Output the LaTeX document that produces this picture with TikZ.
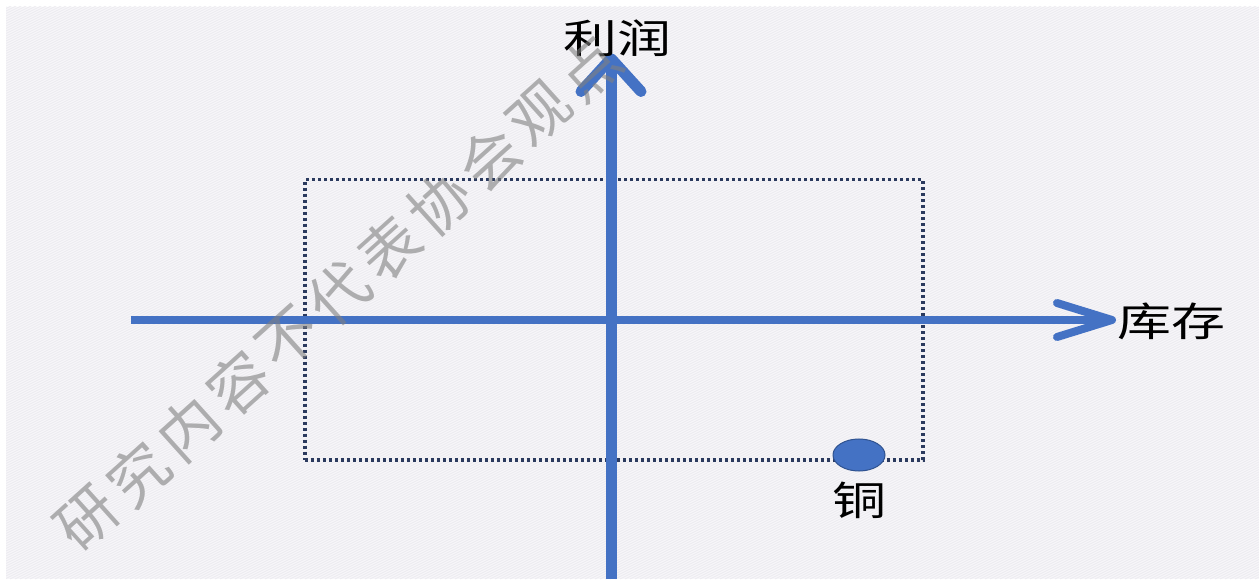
\documentclass[tikz,border=0pt]{standalone}
\usepackage{fontspec}
\newfontfamily\cjk{Noto Sans CJK SC}
\usetikzlibrary{arrows.meta,shapes.geometric}
\definecolor{axisblue}{HTML}{4472C4}
\definecolor{dotnavy}{HTML}{2B3A5E}
\definecolor{bgc}{HTML}{F7F6F9}
\definecolor{hatchc}{HTML}{ECEBF0}
\definecolor{dotborder}{HTML}{2F528F}
\tikzset{
  axisline/.style={draw=axisblue, line cap=butt},
  label/.style={font=\cjk\fontsize{40}{40}\selectfont, text=black, inner sep=0pt},
  region/.style={draw=dotnavy, line width=3.5pt, dash pattern=on 3pt off 3pt},
  metal/.style={ellipse, fill=axisblue, draw=dotborder, line width=1pt, minimum width=52pt, minimum height=32pt, inner sep=0pt},
  hatch/.style={draw=hatchc, line width=0.8pt},
  watermark/.style={font=\cjk\fontsize{60}{60}\selectfont, text=gray, opacity=0.6, inner sep=0pt, rotate=42}
}
\begin{document}
\begin{tikzpicture}[x=1pt,y=1pt]
\useasboundingbox (0,0) rectangle (1259,579);
\fill[white] (0,0) rectangle (1259,579);
\begin{scope}
  \clip (6,0) rectangle (1259,572);
  \fill[bgc] (6,0) rectangle (1259,572);
  \foreach \i in {-1200,-1195,...,1259} \draw[hatch] (\i,0) -- ++(1200,600);
\end{scope}

% dotted region
\node[region, minimum width=618pt, minimum height=280pt, inner sep=0pt, anchor=north west] (box) at (303,401) {};

% axes
\coordinate (xl) at (131,259);
\coordinate (xr) at (1116,259);
\coordinate (yb) at (611,0);
\coordinate (yt) at (611,526);
\draw[axisline, line width=8pt, -{Straight Barb[length=55pt, width=34pt, round]}] (xl) -- (xr);
\draw[axisline, line width=11pt, -{Straight Barb[length=33pt, width=60pt, round]}] (yb) -- (yt);

% labels
\node[label] (profit) at (617,541) {\scalebox{1.35}[1]{利润}};
\node[label, anchor=west] (stock) at (1117,258) {\scalebox{1.35}[1]{库存}};
\node[metal] (cu) at (859,124) {};
\node[label] (cul) at (859,79) {\scalebox{1.35}[1]{铜}};

% watermark
\foreach \c [count=\k from 0] in {研,究,内,容,不,代,表,协,会,观,点}
  \node[watermark] (wm\k) at ({88+50.2*\k},{60+45.1*\k}) {\c};
\end{tikzpicture}
\end{document}
